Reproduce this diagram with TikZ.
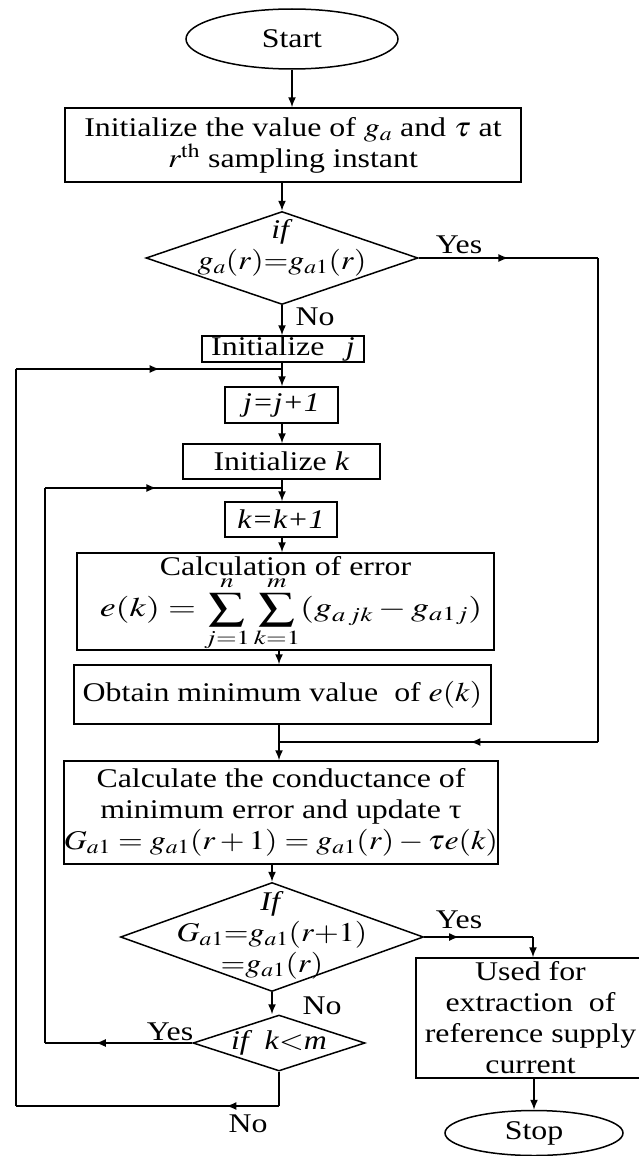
\documentclass[tikz,border=0pt]{standalone}
\usepackage{mathptmx}
\usepackage[no-math]{fontspec}
\setmainfont{Liberation Serif}[FakeStretch=1.18]
\usetikzlibrary{shapes.geometric,arrows.meta,decorations.markings}
\newcommand\mth[1]{\scalebox{1.18}[1]{$#1$}}
\begin{document}
\begin{tikzpicture}[x=1pt,y=-1pt,
  every node/.style={font=\fontsize{27}{31}\selectfont},
  box/.style={draw,line width=1.5pt,inner sep=0pt,align=center},
  dia/.style={draw,diamond,line width=1.5pt,inner sep=0pt},
  term/.style={draw,ellipse,line width=1.5pt,inner sep=0pt},
  txt/.style={inner sep=0pt,align=center},
  conn/.style={line width=1.5pt},
  arr/.style={conn,-{Latex[length=10pt,width=8pt]}},
  marrow/.style={conn,postaction={decorate},decoration={markings,mark=at position #1 with {\arrow{Latex[length=10pt,width=8pt]}}}}
]
\useasboundingbox (0,0) rectangle (639,1156);

% nodes
\node[term,minimum width=212pt,minimum height=60pt] (start) at (292,39) {Start};
\node[box,minimum width=456pt,minimum height=74pt] (box1) at (293,145)
  {Initialize the value of \mth{g_a} and \mth{\tau} at\\ \mth{r^{\mathrm{th}}} sampling instant};
\node[dia,minimum width=272pt,minimum height=93pt] (d1) at (282,258) {};
\node[txt] (d1t) at (282,248) {\textit{if}\\ \mth{g_a(r)\mathord{=}g_{a1}(r)}};
\node[box,minimum width=162pt,minimum height=26pt] (initj) at (283,349) {Initialize \enspace\textit{j}};
\node[box,minimum width=113pt,minimum height=36pt] (jj) at (281.5,405) {\textit{j=j+1}};
\node[box,minimum width=197pt,minimum height=35pt] (initk) at (281.5,461.5) {Initialize \textit{k}};
\node[box,minimum width=112pt,minimum height=35pt] (kk) at (281,519.5) {\textit{k=k+1}};
\node[box,minimum width=417pt,minimum height=97pt] (calc) at (285.5,601.5) {};
\node[txt] (calct1) at (285.5,566) {Calculation of error};
\node[txt,font=\fontsize{27}{31}\selectfont] (calct2) at (291,614)
  {\scalebox{1.33}[1]{$\displaystyle e(k)=\sum_{j=1}^{n}\sum_{k=1}^{m}(g_{a\,jk}-g_{a1j})$}};
\node[box,minimum width=417pt,minimum height=59pt] (obtain) at (282.5,694.5) {Obtain minimum value \ of \mth{e(k)}};
\node[box,minimum width=418pt,minimum height=103pt] (calcG) at (281,812.5)
  {Calculate the conductance of\\ minimum error and update τ\\ \mth{G_{a1}=g_{a1}(r+1)=g_{a1}(r)-\tau e(k)}};
\node[dia,minimum width=303pt,minimum height=109pt] (d2) at (272,937) {};
\node[txt] (d2t) at (272,935) {\textit{If}\\ \mth{G_{a1}\mathord{=}g_{a1}(r\mathord{+}1)}\\ \mth{\mathord{=}g_{a1}(r)}};
\node[dia,minimum width=172pt,minimum height=56pt] (d3) at (279,1043) {};
\node[txt] (d3t) at (279,1043) {\textit{if \ k}\mth{<}\textit{m}};
\node[box,minimum width=229pt,minimum height=120pt] (used) at (530.5,1018)
  {Used for\\ extraction \ of\\ reference supply\\ current};
\node[term,minimum width=178pt,minimum height=45pt] (stop) at (534,1133) {Stop};

% labels
\node[txt] (y1) at (459,245) {Yes};
\node[txt] (n1) at (315,317) {No};
\node[txt] (y2) at (459,920) {Yes};
\node[txt] (n2) at (322,1006) {No};
\node[txt] (y3) at (170,1032) {Yes};
\node[txt] (n3) at (248,1124) {No};

% helper coordinates
\coordinate (rt) at (598,258);
\coordinate (merge) at (279,742);
\coordinate (jl) at (282,369);
\coordinate (kl) at (282,488);
\coordinate (ur) at (533,937);
\coordinate (kyl) at (45,1043);
\coordinate (knb) at (279,1106);
\coordinate (jnl) at (16,1106);

% connectors
\draw[arr] (start.south) -- (start.south |- box1.north);
\draw[arr] (d1.north |- box1.south) -- (d1.north);
\draw[marrow=0.5] (d1.east) -- (rt);
\draw[conn] (rt) -- (rt |- merge);
\draw[marrow=0.4] (rt |- merge) -- (merge);
\draw[arr] (d1.south) -- (d1.south |- initj.north);
\draw[arr] (jl |- initj.south) -- (jl |- jj.north);
\draw[arr] (jl |- jj.south) -- (jl |- initk.north);
\draw[arr] (kl |- initk.south) -- (kl |- kk.north);
\draw[arr] (kl |- kk.south) -- (kl |- calc.north);
\draw[arr] (merge |- calc.south) -- (merge |- obtain.north);
\draw[arr] (merge |- obtain.south) -- (merge |- calcG.north);
\draw[arr] (d2.north |- calcG.south) -- (d2.north);
\draw[marrow=0.32] (d2.east) -- (ur);
\draw[arr] (ur) -- (ur |- used.north);
\draw[arr] (d2.south) -- (d2.south |- d3.north);
\draw[arr] (used.south -| stop.north) -- (stop.north);
% k loop
\draw[marrow=0.655] (d3.west) -- (kyl);
\draw[conn] (kyl) -- (kyl |- kl);
\draw[marrow=0.47] (kyl |- kl) -- (kl);
% j loop
\draw[conn] (d3.south) -- (knb);
\draw[marrow=0.2] (knb) -- (jnl);
\draw[conn] (jnl) -- (jnl |- jl);
\draw[marrow=0.54] (jnl |- jl) -- (jl);
\end{tikzpicture}
\end{document}
